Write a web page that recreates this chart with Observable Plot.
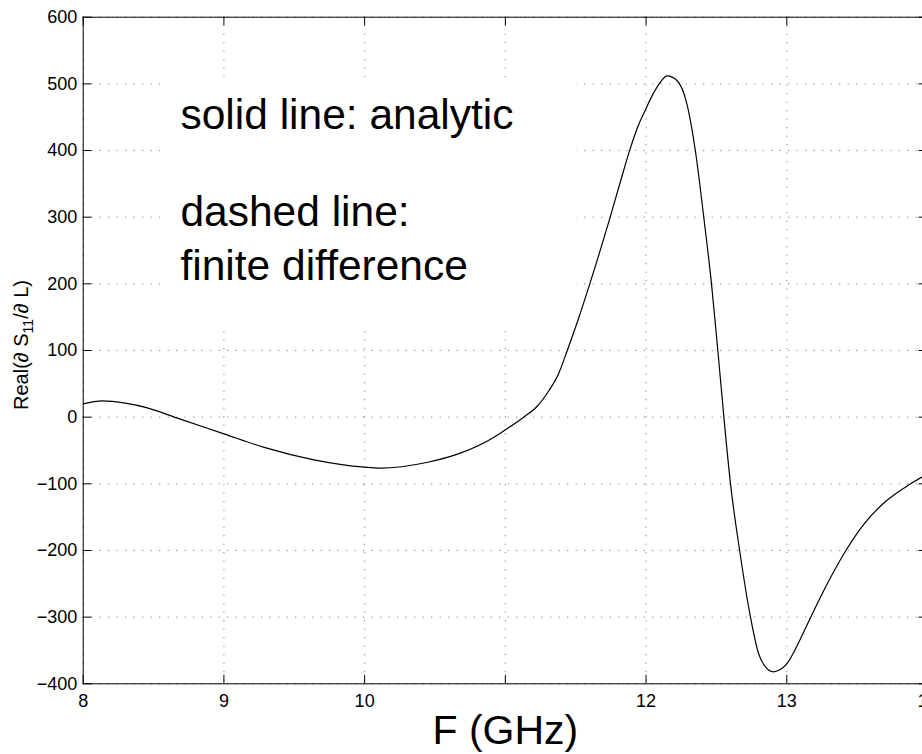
<!DOCTYPE html>
<html>
<head>
<meta charset="utf-8">
<script src="https://cdn.jsdelivr.net/npm/d3@7"></script>
<script src="https://cdn.jsdelivr.net/npm/@observablehq/plot@0.6"></script>
<style>
  html, body { margin: 0; padding: 0; overflow: hidden; background: white; }
  svg { display: block; }
</style>
</head>
<body>
<div id="chart"></div>
<script>
// Frequency (GHz) and Real(dS11/dL)
const freq = [8.0, 8.135, 8.3, 8.455, 8.69, 9.0, 9.28, 9.64, 10.0, 10.11, 10.44, 10.68, 10.92, 11.0, 11.13, 11.225, 11.31, 11.38, 11.44, 11.52, 11.60, 11.745, 11.82, 11.88, 11.94, 12.0, 12.05, 12.10, 12.15, 12.22, 12.29, 12.35, 12.41, 12.465, 12.51, 12.553, 12.60, 12.665, 12.742, 12.80, 12.85, 12.905, 12.95, 13.0, 13.08, 13.17, 13.30, 13.42, 13.55, 13.70, 13.88, 14.0];
const value = [20, 24.5, 21, 14, -3, -25, -45, -64, -75, -76.5, -68, -54, -30, -19, 0, 16, 40, 66, 100, 148, 200, 300, 355, 398, 435, 463, 485, 502, 512, 505, 470, 400, 300, 200, 100, 0, -100, -200, -300, -355, -375, -382, -379, -370, -340, -300, -245, -200, -160, -127, -100, -85];

const xTicks = [8, 9, 10, 11, 12, 13, 14];
const xTickLabels = ["8", "9", "10", "", "12", "13", "14"];
const yTicks = [-400, -300, -200, -100, 0, 100, 200, 300, 400, 500, 600];

const annotationLines = ["solid line: analytic", "dashed line:", "finite difference"];
const xLabel = "F (GHz)";

const data = freq.map((f, i) => ({f, v: value[i]}));

const marginLeft = 82.7, marginRight = 3, marginTop = 16.7, marginBottom = 70.7;
const width = 930, height = 754;
const frameW = width - marginLeft - marginRight;
const frameH = height - marginTop - marginBottom;
const tickLen = 8.5;
const gridStyle = {stroke: "#000", strokeOpacity: 0.6, strokeDasharray: "1,7.5", strokeWidth: 1};

const chart = Plot.plot({
  width, height, marginLeft, marginRight, marginTop, marginBottom,
  style: {fontFamily: "'Liberation Sans', Arial, Helvetica, sans-serif", fontSize: "18px", background: "white", color: "black"},
  x: {domain: [8, 14], ticks: xTicks, tickSize: 0, tickPadding: 10, tickFormat: d => xTickLabels[xTicks.indexOf(d)], label: null},
  y: {domain: [-400, 600], ticks: yTicks, tickSize: 0, tickPadding: 6, label: null},
  marks: [
    Plot.ruleX(xTicks, {x: d => d, ...gridStyle}),
    Plot.ruleY(yTicks, {y: d => d, ...gridStyle}),
    // white background box of the annotation text
    Plot.rect([0], {x1: 8.549, x2: 11.51, y1: 137.5, y2: 509.6, fill: "white"}),
    Plot.line(data, {x: "f", y: "v", curve: "monotone-x", stroke: "black", strokeWidth: 1.2}),
    // inward ticks
    Plot.ruleX(xTicks, {x: d => d, insetTop: frameH - tickLen, stroke: "black"}),
    Plot.ruleX(xTicks, {x: d => d, insetBottom: frameH - tickLen, stroke: "black"}),
    Plot.ruleY(yTicks, {y: d => d, insetRight: frameW - tickLen, stroke: "black"}),
    Plot.ruleY(yTicks, {y: d => d, insetLeft: frameW - tickLen, stroke: "black"}),
    Plot.frame({stroke: "black", strokeWidth: 1}),
    Plot.text([annotationLines[0]], {x: 8.691, y: 432.6, text: d => d, textAnchor: "start", lineAnchor: "bottom", fontSize: 42.5, fill: "black"}),
    Plot.text([annotationLines[1]], {x: 8.691, y: 286.5, text: d => d, textAnchor: "start", lineAnchor: "bottom", fontSize: 42.5, fill: "black"}),
    Plot.text([annotationLines[2]], {x: 8.691, y: 206.5, text: d => d, textAnchor: "start", lineAnchor: "bottom", fontSize: 42.5, fill: "black"}),
    Plot.text([xLabel], {frameAnchor: "bottom", dy: 59.7, text: d => d, lineAnchor: "bottom", fontSize: 41, fill: "black"})
  ]
});
chart.style.maxWidth = "none";
chart.style.width = width + "px";
chart.style.height = height + "px";

// y-axis label with subscript
const yl = d3.select(chart).append("text")
  .attr("transform", "translate(27.5,345) rotate(-90)")
  .attr("text-anchor", "middle")
  .attr("font-size", 20)
  .attr("fill", "black");
yl.append("tspan").text("Real(\u2202 S");
yl.append("tspan").attr("font-size", 14).attr("dy", 5).text("11");
yl.append("tspan").attr("dy", -5).text("/\u2202 L)");

document.getElementById("chart").appendChild(chart);
</script>
</body>
</html>
